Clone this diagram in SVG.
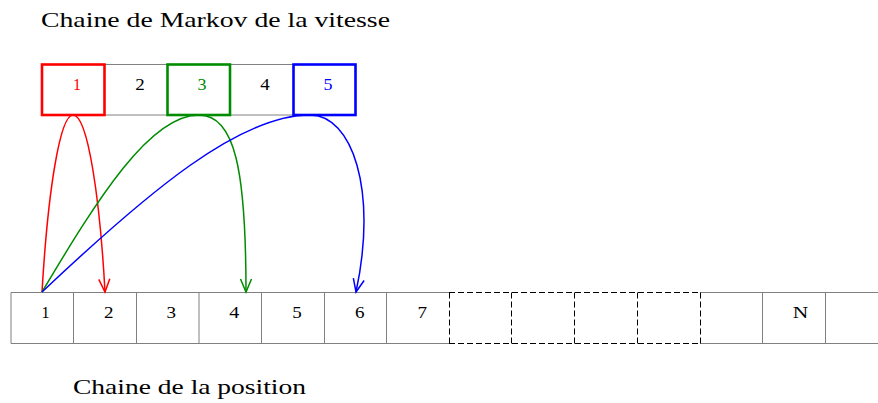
<svg xmlns="http://www.w3.org/2000/svg" width="878" height="403" viewBox="0 0 878 403">
  <style>
    .t { font-family: "Liberation Serif", "Times New Roman", serif; }
    .k { fill: #000; }
    .title { font-size: 22px; }
    .num { font-size: 16px; text-anchor: middle; }
    .grey { stroke: #808080; stroke-width: 1; fill: none; }
    .dash { stroke: #000; stroke-width: 1; fill: none; stroke-dasharray: 6 3; }
    .conn { fill: none; stroke-width: 1.5; }
  </style>
  <defs>
    <marker id="ar" viewBox="-15 -8 17 16" refX="0" refY="0" markerWidth="17" markerHeight="16" markerUnits="userSpaceOnUse" orient="auto" overflow="visible">
      <path d="M -13,-5.5 L 0,0 L -13,5.5" fill="none" stroke="#ff0000" stroke-width="1.5"/>
    </marker>
    <marker id="ag" viewBox="-15 -8 17 16" refX="0" refY="0" markerWidth="17" markerHeight="16" markerUnits="userSpaceOnUse" orient="auto" overflow="visible">
      <path d="M -13,-5.5 L 0,0 L -13,5.5" fill="none" stroke="#008c00" stroke-width="1.5"/>
    </marker>
    <marker id="ab" viewBox="-15 -8 17 16" refX="0" refY="0" markerWidth="17" markerHeight="16" markerUnits="userSpaceOnUse" orient="auto" overflow="visible">
      <path d="M -13,-5.5 L 0,0 L -13,5.5" fill="none" stroke="#0000ff" stroke-width="1.5"/>
    </marker>
  </defs>

  <rect width="878" height="403" fill="#fff"/>

  <g id="title-top"><text class="t k title" x="41" y="26.7" textLength="349" lengthAdjust="spacingAndGlyphs">Chaine de Markov de la vitesse</text></g>
  <g id="title-bottom"><text class="t k title" x="73" y="394" textLength="233" lengthAdjust="spacingAndGlyphs">Chaine de la position</text></g>

  <!-- top chain: speed states -->
  <g id="speed-row">
    <line class="grey" x1="104" y1="64.5" x2="167" y2="64.5"/>
    <line class="grey" x1="104" y1="115" x2="167" y2="115"/>
    <line class="grey" x1="230" y1="64.5" x2="293" y2="64.5"/>
    <line class="grey" x1="230" y1="115" x2="293" y2="115"/>
  </g>
  <g id="v1">
    <rect x="42" y="64.5" width="62.5" height="50.5" fill="none" stroke="#ff0000" stroke-width="2.6"/>
    <text class="t num" x="77" y="90" fill="#ff0000" textLength="8" lengthAdjust="spacingAndGlyphs">1</text>
  </g>
  <g id="v2">
    <text class="t k num" x="140" y="90" textLength="9.5" lengthAdjust="spacingAndGlyphs">2</text>
  </g>
  <g id="v3">
    <rect x="167.5" y="64.5" width="62.5" height="50.5" fill="none" stroke="#008c00" stroke-width="2.6"/>
    <text class="t num" x="202" y="90" fill="#008c00" textLength="9" lengthAdjust="spacingAndGlyphs">3</text>
  </g>
  <g id="v4">
    <text class="t k num" x="265" y="90" textLength="9.5" lengthAdjust="spacingAndGlyphs">4</text>
  </g>
  <g id="v5">
    <rect x="293.5" y="64.5" width="62" height="50.5" fill="none" stroke="#0000ff" stroke-width="2.6"/>
    <text class="t num" x="328" y="90" fill="#0000ff" textLength="9" lengthAdjust="spacingAndGlyphs">5</text>
  </g>

  <!-- bottom chain: positions -->
  <g id="position-row">
    <line class="grey" x1="11" y1="292.5" x2="449" y2="292.5"/>
    <line class="grey" x1="11" y1="343.5" x2="449" y2="343.5"/>
    <line class="grey" x1="700" y1="292.5" x2="878" y2="292.5"/>
    <line class="grey" x1="700" y1="343.5" x2="878" y2="343.5"/>
    <line class="dash" x1="449" y1="292.5" x2="700" y2="292.5"/>
    <line class="dash" x1="449" y1="343.5" x2="700" y2="343.5"/>
  </g>
  <g id="p1"><line class="grey" x1="11" y1="292.5" x2="11" y2="343.5"/><text class="t k num" x="45.5" y="318.3" textLength="8" lengthAdjust="spacingAndGlyphs">1</text></g>
  <g id="p2"><line class="grey" x1="73.5" y1="292.5" x2="73.5" y2="343.5"/><text class="t k num" x="108.7" y="318.3" textLength="9.5" lengthAdjust="spacingAndGlyphs">2</text></g>
  <g id="p3"><line class="grey" x1="136.5" y1="292.5" x2="136.5" y2="343.5"/><text class="t k num" x="171.3" y="318.3" textLength="9.5" lengthAdjust="spacingAndGlyphs">3</text></g>
  <g id="p4"><line class="grey" x1="199" y1="292.5" x2="199" y2="343.5"/><text class="t k num" x="234.3" y="318.3" textLength="10" lengthAdjust="spacingAndGlyphs">4</text></g>
  <g id="p5"><line class="grey" x1="261.5" y1="292.5" x2="261.5" y2="343.5"/><text class="t k num" x="297" y="318.3" textLength="9.5" lengthAdjust="spacingAndGlyphs">5</text></g>
  <g id="p6"><line class="grey" x1="324.5" y1="292.5" x2="324.5" y2="343.5"/><text class="t k num" x="359.7" y="318.3" textLength="9.5" lengthAdjust="spacingAndGlyphs">6</text></g>
  <g id="p7"><line class="grey" x1="386.5" y1="292.5" x2="386.5" y2="343.5"/><text class="t k num" x="422.2" y="318.3" textLength="9.5" lengthAdjust="spacingAndGlyphs">7</text></g>
  <g id="p8"><line class="dash" x1="449.5" y1="292.5" x2="449.5" y2="343.5"/></g>
  <g id="p9"><line class="dash" x1="511.5" y1="292.5" x2="511.5" y2="343.5"/></g>
  <g id="p10"><line class="dash" x1="574.5" y1="292.5" x2="574.5" y2="343.5"/></g>
  <g id="p11"><line class="dash" x1="637.5" y1="292.5" x2="637.5" y2="343.5"/></g>
  <g id="p12"><line class="dash" x1="700.5" y1="292.5" x2="700.5" y2="343.5"/></g>
  <g id="pN"><line class="grey" x1="762.5" y1="292.5" x2="762.5" y2="343.5"/><text class="t k num" x="800.5" y="318.3" textLength="15.5" lengthAdjust="spacingAndGlyphs">N</text></g>
  <g id="p14"><line class="grey" x1="825.5" y1="292.5" x2="825.5" y2="343.5"/></g>

  <!-- connectors -->
  <g id="connectors">
    <path class="conn" stroke="#ff0000" marker-end="url(#ar)" d="M 42,292 C 48,190 60,115 73,115 C 88,115 100,200 105,292"/>
    <path class="conn" stroke="#008c00" marker-end="url(#ag)" d="M 42,292 C 98,198 150,115 199,115 C 235,115 246,170 246,292"/>
    <path class="conn" stroke="#0000ff" marker-end="url(#ab)" d="M 42,292 C 150,190 240,115 310,115 C 352,115 378,190 356,292"/>
  </g>
</svg>
